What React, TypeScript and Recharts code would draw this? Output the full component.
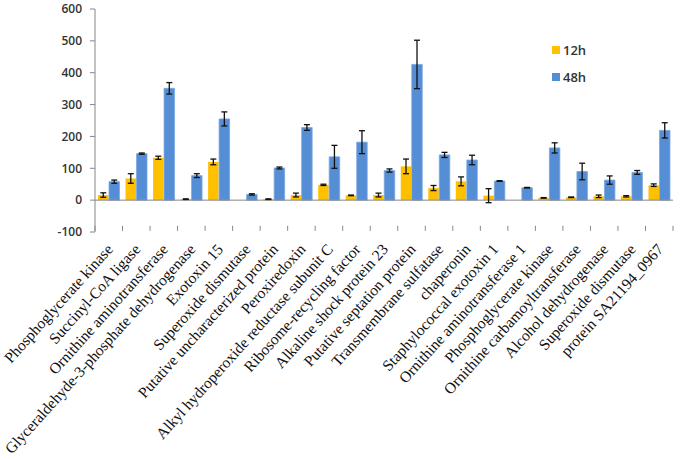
import React from "react";
import { Bar, BarChart, ErrorBar, Legend, ReferenceLine, XAxis, YAxis } from "recharts";

const proteins = [
  "Phosphoglycerate kinase",
  "Succinyl-CoA ligase",
  "Ornithine aminotransferase",
  "Glyceraldehyde-3-phosphate dehydrogenase",
  "Exotoxin 15",
  "Superoxide dismutase",
  "Putative uncharacterized protein",
  "Peroxiredoxin",
  "Alkyl hydroperoxide reductase subunit C",
  "Ribosome-recycling factor",
  "Alkaline shock protein 23",
  "Putative septation protein",
  "Transmembrane sulfatase",
  "chaperonin",
  "Staphylococcal exotoxin 1",
  "Ornithine aminotransferase 1",
  "Phosphoglycerate kinase",
  "Ornithine carbamoyltransferase",
  "Alcohol dehydrogenase",
  "Superoxide dismutase",
  "protein SA21194_0967",
];
const h12 = [16, 68, 133, 3, 120, 0, 3, 16, 48, 15, 16, 106, 38, 59, 14, 0, 7, 9, 12, 12, 47];
const h12Err = [7, 15, 5, 1, 9, 0, 1, 6, 2, 1, 6, 23, 8, 14, 22, 0, 1, 1, 4, 2, 4];
const h48 = [58, 146, 351, 77, 255, 18, 101, 228, 136, 182, 93, 426, 142, 126, 60, 39, 164, 90, 63, 87, 219];
const h48Err = [5, 2, 18, 6, 22, 2, 3, 9, 36, 36, 5, 76, 8, 15, 1, 1, 16, 26, 13, 6, 24];
const yTicks = [-100, 0, 100, 200, 300, 400, 500, 600];

const data = proteins.map((name, i) => ({
  name,
  h12: h12[i],
  h12Err: h12Err[i],
  h48: h48[i],
  h48Err: h48Err[i],
}));

const W = 680;
const H = 460;
const M = { top: 9, right: 7, bottom: 198, left: 0 };
const Y_W = 95;
const PLOT_W = W - M.left - M.right - Y_W;
const PLOT_H = H - M.top - M.bottom;
const ZERO_Y = M.top + (PLOT_H * 600) / 700;
const BAND = PLOT_W / proteins.length;
const AXIS = "#868686";
const SANS = "'Open Sans', 'Liberation Sans', Arial, sans-serif";

function CategoryTick(props: any) {
  const { x, payload, index } = props;
  const left = x - BAND / 2;
  const right = x + BAND / 2;
  const tx = x + 5;
  const ty = ZERO_Y + 24;
  return (
    <g>
      <line x1={left} y1={ZERO_Y} x2={left} y2={ZERO_Y + 5} stroke={AXIS} />
      {index === proteins.length - 1 && (
        <line x1={right} y1={ZERO_Y} x2={right} y2={ZERO_Y + 5} stroke={AXIS} />
      )}
      <text
        x={tx}
        y={ty}
        textAnchor="end"
        transform={`rotate(-48, ${tx}, ${ty})`}
        fontFamily="'Liberation Serif', 'Times New Roman', serif"
        fontSize={15.5}
        fill="#111"
      >
        {payload.value}
      </text>
    </g>
  );
}

function LegendBox({ payload }: any) {
  return (
    <div style={{ fontFamily: SANS, fontSize: 13, fontWeight: 600, color: "#333" }}>
      {(payload || []).map((p: any) => (
        <div key={p.value} style={{ display: "flex", alignItems: "center", height: 16, marginBottom: 11 }}>
          <span style={{ width: 8, height: 8, background: p.color, marginRight: 3 }} />
          {p.value}
        </div>
      ))}
    </div>
  );
}

export default function App() {
  return (
    <div style={{ position: "absolute", left: 0, top: 0, width: W, height: H, background: "#fff" }}>
      <BarChart width={W} height={H} data={data} margin={M} barSize={10.5} barGap={0.5}>
        <YAxis
          width={Y_W}
          domain={[-100, 600]}
          ticks={yTicks}
          interval={0}
          axisLine={{ stroke: AXIS }}
          tickLine={{ stroke: AXIS }}
          tickSize={5}
          tickMargin={8}
          tick={{ fill: "#333", fontSize: 12, fontWeight: 600, fontFamily: SANS }}
        />
        <XAxis dataKey="name" interval={0} axisLine={false} tickLine={false} tick={<CategoryTick />} />
        <ReferenceLine y={0} stroke={AXIS} />
        <Legend
          layout="vertical"
          align="center"
          verticalAlign="middle"
          content={<LegendBox />}
          wrapperStyle={{ left: 552, top: 42, width: 60 }}
        />
        <Bar dataKey="h12" name="12h" fill="#FFC000" isAnimationActive={false}>
          <ErrorBar dataKey="h12Err" width={3} stroke="#111" strokeWidth={1.3} />
        </Bar>
        <Bar dataKey="h48" name="48h" fill="#558ED5" stroke="#7BA7DE" strokeWidth={0.8} isAnimationActive={false}>
          <ErrorBar dataKey="h48Err" width={3} stroke="#111" strokeWidth={1.3} />
        </Bar>
      </BarChart>
    </div>
  );
}
